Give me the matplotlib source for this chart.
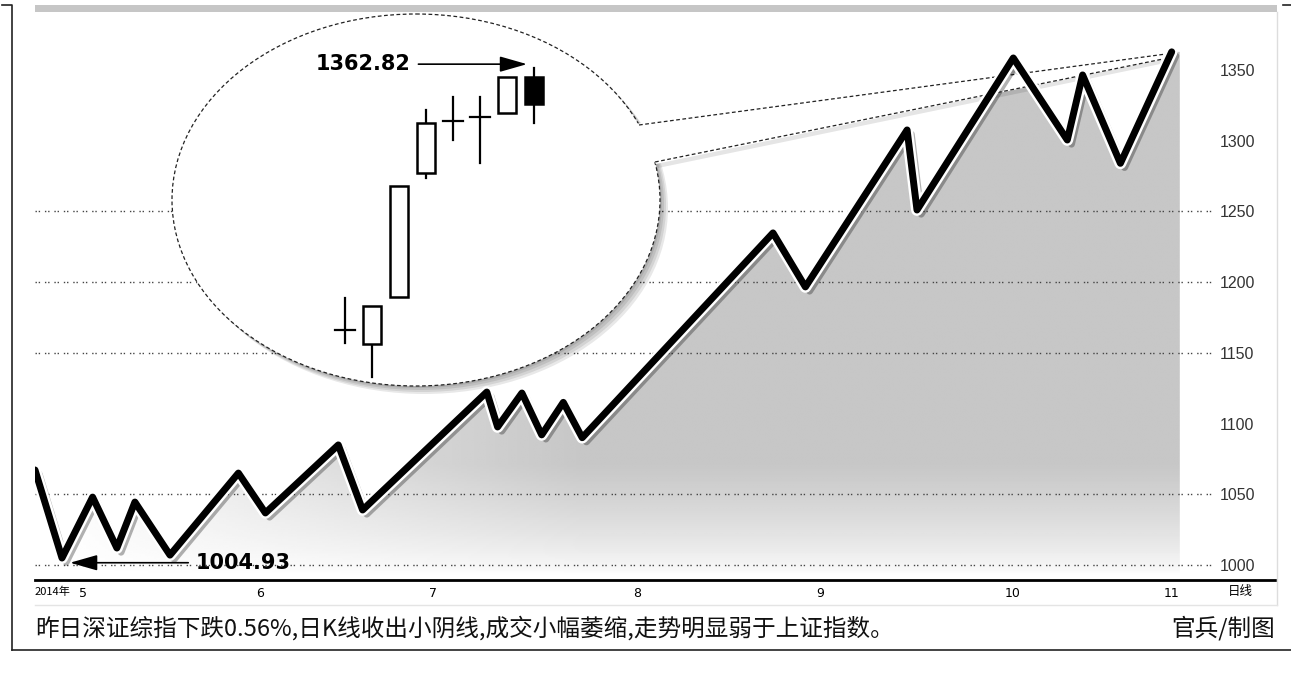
import numpy as np
import matplotlib
matplotlib.use('Agg')
import matplotlib.pyplot as plt
from matplotlib.patches import Ellipse, Polygon, Rectangle
from matplotlib.lines import Line2D
from matplotlib.transforms import Affine2D
import matplotlib.patheffects as pe

plt.rcParams['font.family'] = ['Noto Sans CJK SC', 'DejaVu Sans']

# Shenzhen composite, turning points (x = trading days since early May 2014)
day = [0, 3, 6.4, 9.1, 11.1, 15, 22.6, 25.6, 33.7, 36.4, 50.2, 51.4, 54.1,
       56.3, 58.7, 60.8, 82, 85.6, 96.9, 98, 108.7, 114.7, 116.4, 120.6, 126.3]
index = [1067.2, 1004.93, 1048, 1012, 1044.5, 1007, 1065, 1036.8, 1084.9,
         1038.9, 1122.3, 1097.6, 1121.6, 1092, 1115, 1090, 1234.8, 1196.6,
         1307.6, 1251, 1358.5, 1300.5, 1346.5, 1284, 1362.82]

month_pos = [5.3, 25, 44.2, 66.9, 87.2, 108.6, 126.3]
month_labels = ['5', '6', '7', '8', '9', '10', '11']
y_ticks = [1000, 1050, 1100, 1150, 1200, 1250, 1300, 1350]
grid_levels = [1000, 1050, 1150, 1200, 1250]

# last eight daily candles shown in the magnifier
c_open = [1296.0, 1292.4, 1304.4, 1336.0, 1349.3, 1350.3, 1351.3, 1360.5]
c_high = [1304.2, 1302.1, 1332.7, 1352.1, 1355.4, 1355.4, 1360.5, 1362.82]
c_low = [1292.7, 1284.0, 1304.4, 1334.8, 1344.5, 1338.6, 1351.3, 1348.8]
c_close = [1296.0, 1302.1, 1332.7, 1348.8, 1349.3, 1350.3, 1360.5, 1353.6]

caption = '昨日深证综指下跌0.56%,日K线收出小阴线,成交小幅萎缩,走势明显弱于上证指数。'
credit = '官兵/制图'

W, H, DPI = 1291, 673, 100
fig = plt.figure(figsize=(W / DPI, H / DPI), dpi=DPI)
fig.patch.set_facecolor('white')
# pixel coordinates of the picture (y downwards) for decorations
px = Affine2D().scale(1 / DPI, -1 / DPI).translate(0, H / DPI) + fig.dpi_scale_trans

ax = fig.add_axes([35 / W, (H - 580) / H, 1240 / W, 568 / H])
xmax = 1240 / 9
ymin, ymax = 989.39, 1391.0
ax.set_xlim(0, xmax)
ax.set_ylim(ymin, ymax)
for s in ['top', 'left', 'right']:
    ax.spines[s].set_visible(False)
ax.spines['bottom'].set_linewidth(2)

# gray gradient fill under the line
nx, ny = 400, 300
gx = np.linspace(0, xmax, nx)
gy = np.linspace(ymin, ymax, ny)
GX, GY = np.meshgrid(gx, gy)
xpix = 35 + 9 * GX
ypix = 580 - (GY - ymin) * 568 / (ymax - ymin)
a = np.clip((xpix - 60) / 520, 0, 1) ** 0.8
b = np.clip((575 - ypix) / 110, 0, 1) ** 0.7
shade = 1 - 0.22 * a * b
im = ax.imshow(shade, cmap='gray', vmin=0, vmax=1, origin='lower',
               extent=[0, xmax, ymin, ymax], aspect='auto', zorder=1,
               interpolation='bilinear')
verts = [(day[0], ymin)] + list(zip(day, index)) + [(day[-1] + 0.9, index[-1]), (day[-1] + 0.9, ymin)]
clip = Polygon(verts, closed=True, facecolor='none', edgecolor='none', transform=ax.transData)
ax.add_patch(clip)
im.set_clip_path(clip)

# dotted gridlines
ax.hlines(grid_levels, 0, (1212 - 35) / 9, colors='#444444', linewidth=1,
          linestyles=(0, (1, 1.3, 1, 3.5)), zorder=1.5)

# magnifier ellipse with shadow
for off in [8, 6, 4, 2]:
    ax.add_patch(Ellipse((416 + off, 200 + off), 488, 372, transform=px,
                         facecolor='#000000', alpha=0.09, edgecolor='none',
                         zorder=2, clip_on=False))
ax.add_patch(Ellipse((416, 200), 488, 372, transform=px, facecolor='white',
                     edgecolor='#222222', linewidth=0.9, linestyle=(0, (3, 2)),
                     zorder=2.2, clip_on=False))
# callout wedge towards the latest point
ax.add_patch(Polygon([(655, 162), (1168, 58), (1170, 62), (658, 168)], transform=px,
                     facecolor='#000000', alpha=0.10, edgecolor='none', zorder=2.1))
ax.add_patch(Polygon([(634, 124), (1166, 54), (1168, 58), (656, 164), (641, 146)],
                     transform=px, facecolor='white', edgecolor='none', zorder=2.3))
for p0, p1 in [((639, 125), (1166, 54)), ((655, 162), (1168, 58))]:
    ax.add_line(Line2D([p0[0], p1[0]], [p0[1], p1[1]], transform=px, color='#222222',
                       linewidth=0.9, linestyle=(0, (3, 2)), zorder=2.4))

# main zigzag line
ax.plot(day, index, color='black', linewidth=5, solid_joinstyle='round',
        solid_capstyle='round', zorder=3,
        path_effects=[pe.SimpleLineShadow(offset=(3, -3), shadow_color='black', alpha=0.3),
                      pe.Stroke(linewidth=8.5, foreground='white'), pe.Normal()])

ax.annotate('1004.93', xy=(3.9, 1001.6), xytext=(17.8, 1001.6),
            fontsize=15, fontweight='bold', family='DejaVu Sans', va='center', ha='left',
            zorder=4,
            arrowprops=dict(arrowstyle='-|>,head_length=1.4,head_width=0.4',
                            color='black', linewidth=1.2, shrinkA=3, shrinkB=0,
                            mutation_scale=12))

# axes ticks
ax.set_xticks(month_pos)
ax.set_xticklabels(month_labels, family='DejaVu Sans', fontsize=9)
ax.tick_params(axis='x', length=0, pad=5)
ax.yaxis.tick_right()
ax.set_yticks(y_ticks)
ax.set_yticklabels([str(v) for v in y_ticks], family='Liberation Sans', fontsize=11.5,
                   color='#333333')
ax.tick_params(axis='y', length=0, pad=-40)
ax.text(0.0, -0.021, '2014年', transform=ax.transAxes, fontsize=8, va='center', ha='left')
ax.text(0.972, -0.021, '日线', transform=ax.transAxes, fontsize=9, va='center', ha='center')

# candlesticks inside the magnifier
axc = fig.add_axes([300 / W, (H - 390) / H, 260 / W, 340 / H])
axc.set_xlim((300 - 345) / 27, (560 - 345) / 27)
axc.set_ylim(1362.82 - (390 - 68) * 0.255, 1362.82 + (68 - 50) * 0.255)
axc.axis('off')
axc.patch.set_alpha(0)
bw = 0.7
for i in range(len(c_open)):
    o, hi, lo, c = c_open[i], c_high[i], c_low[i], c_close[i]
    top, bot = max(o, c), min(o, c)
    if abs(c - o) < 0.05:
        axc.plot([i, i], [lo, hi], color='black', linewidth=1.6, zorder=5)
        axc.plot([i - 0.37, i + 0.37], [o, o], color='black', linewidth=1.6, zorder=5)
        continue
    if hi > top:
        axc.plot([i, i], [top, hi], color='black', linewidth=1.6, zorder=4)
    if lo < bot:
        axc.plot([i, i], [lo, bot], color='black', linewidth=1.6, zorder=4)
    axc.add_patch(Rectangle((i - bw / 2, bot), bw, top - bot,
                            facecolor='white' if c > o else 'black',
                            edgecolor='black', linewidth=1.8, zorder=5))
axc.annotate('1362.82', xy=(6.74, 1363.8), xytext=(2.41, 1363.8),
             fontsize=15, fontweight='bold', family='DejaVu Sans', va='center', ha='right',
             arrowprops=dict(arrowstyle='-|>,head_length=1.4,head_width=0.4',
                             color='black', linewidth=1.2, shrinkA=4, shrinkB=0,
                             mutation_scale=12))

# newspaper frame and band
fig.add_artist(Rectangle((35, 5), 1242, 7, transform=px, facecolor='#c6c6c6', edgecolor='none'))
for xs, ys, col, lw in [([2, 12, 12], [5, 5, 650], '#222222', 1.2),
                         ([12, 1291], [650, 650], '#222222', 1.2),
                         ([1283, 1291], [5, 5], '#222222', 1.2),
                         ([1277, 1277], [12, 605], '#dddddd', 1.0),
                         ([35, 1277], [605, 605], '#e4e4e4', 1.0)]:
    fig.add_artist(Line2D(xs, ys, transform=px, color=col, linewidth=lw))

fig.text(35 / W, 1 - 628 / H, caption, fontsize=17, va='center', ha='left', color='#111111')
fig.text(1275 / W, 1 - 628 / H, credit, fontsize=17, va='center', ha='right', color='#111111')

fig.savefig('out.png', dpi=DPI)
